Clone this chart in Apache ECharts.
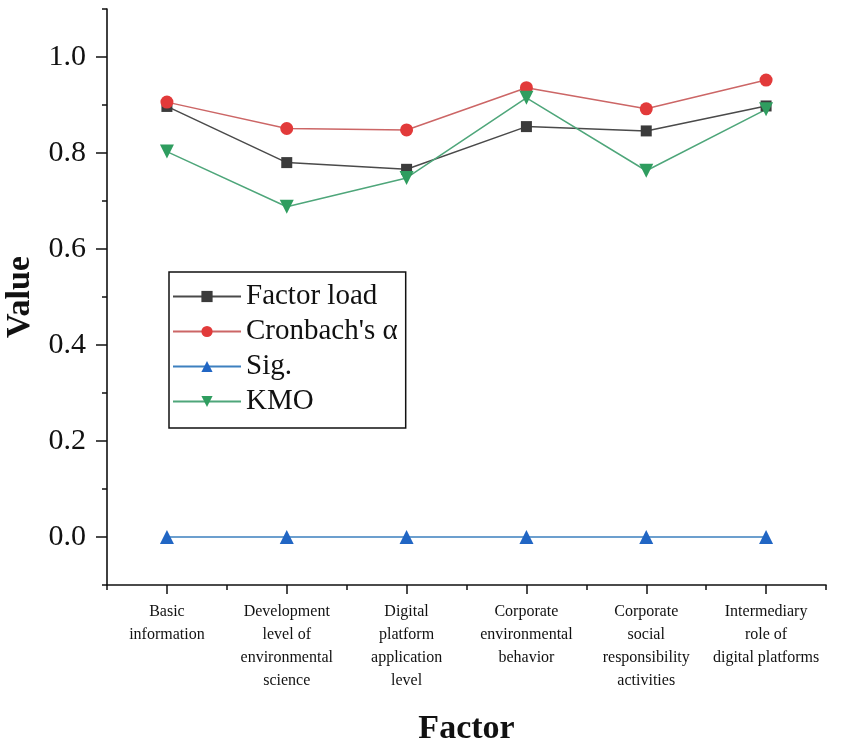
<!DOCTYPE html>
<html>
<head>
<meta charset="utf-8">
<script src="https://cdn.jsdelivr.net/npm/echarts@6/dist/echarts.min.js"></script>
<style>
html,body{margin:0;padding:0;background:#fff;}
#chart{width:843px;height:749px;}
</style>
</head>
<body>
<div id="chart"></div>
<script>
var categories = [
  "Basic\ninformation",
  "Development\nlevel of\nenvironmental\nscience",
  "Digital\nplatform\napplication\nlevel",
  "Corporate\nenvironmental\nbehavior",
  "Corporate\nsocial\nresponsibility\nactivities",
  "Intermediary\nrole of\ndigital platforms"
];
var factorLoad = [0.897, 0.780, 0.766, 0.855, 0.846, 0.898];
var cronbach   = [0.906, 0.851, 0.848, 0.936, 0.892, 0.952];
var sig        = [0.000, 0.000, 0.000, 0.000, 0.000, 0.000];
var kmo        = [0.803, 0.688, 0.748, 0.915, 0.763, 0.891];
var yMajorTicks = [0.0, 0.2, 0.4, 0.6, 0.8, 1.0];
var yMinorTicks = [-0.1, 0.1, 0.3, 0.5, 0.7, 0.9, 1.1];

var serif = "'Liberation Serif', 'DejaVu Serif', serif";
var axisColor = '#111';

var chart = echarts.init(document.getElementById('chart'));
chart.setOption({
  animation: false,
  backgroundColor: '#fff',
  grid: {left: 107, right: 17, top: 9, bottom: 164, containLabel: false, outerBoundsMode: 'none'},
  legend: {
    orient: 'vertical',
    left: 169, top: 272,
    borderColor: '#111', borderWidth: 1.5,
    padding: [10, 8, 12, 3],
    itemWidth: 68, itemHeight: 14, itemGap: 6,
    textStyle: {fontFamily: serif, fontSize: 29, color: '#111', lineHeight: 29},
    data: ['Factor load', "Cronbach's α", 'Sig.', 'KMO']
  },
  xAxis: [{
    type: 'category', data: categories, boundaryGap: true,
    axisLine: {show: true, onZero: false, lineStyle: {color: axisColor, width: 1.6}},
    axisTick: {show: true, interval: 0, alignWithLabel: true, inside: false, length: 9, lineStyle: {color: axisColor, width: 1.5}},
    axisLabel: {interval: 0, margin: 15, fontFamily: serif, fontSize: 16, lineHeight: 23, color: '#111'},
    splitLine: {show: false},
    name: 'Factor', nameLocation: 'middle', nameGap: 127,
    nameTextStyle: {fontFamily: serif, fontSize: 34, fontWeight: 'bold', color: '#111'}
  }, {
    type: 'category', data: categories, boundaryGap: true, position: 'bottom',
    axisLine: {show: false, onZero: false},
    axisTick: {show: true, interval: 0, inside: false, length: 5, lineStyle: {color: axisColor, width: 1.5}},
    axisLabel: {show: false},
    splitLine: {show: false}
  }],
  yAxis: [{
    type: 'value', min: -0.1, max: 1.1,
    axisLine: {show: true, onZero: false, lineStyle: {color: axisColor, width: 1.6}},
    axisTick: {show: true, customValues: yMajorTicks, length: 11, lineStyle: {color: axisColor, width: 1.5}},
    axisLabel: {customValues: yMajorTicks, margin: 21, fontFamily: serif, fontSize: 30, color: '#111',
      formatter: function (v) { return Number(v).toFixed(1); }},
    splitLine: {show: false},
    name: 'Value', nameLocation: 'middle', nameGap: 70, nameRotate: 90,
    nameTextStyle: {fontFamily: serif, fontSize: 34, fontWeight: 'bold', color: '#111'}
  }, {
    type: 'value', min: -0.1, max: 1.1, position: 'left',
    axisLine: {show: false, onZero: false},
    axisTick: {show: true, customValues: yMinorTicks, length: 5, lineStyle: {color: axisColor, width: 1.5}},
    axisLabel: {show: false},
    splitLine: {show: false}
  }],
  series: [{
    name: 'Factor load', type: 'line', data: factorLoad,
    symbol: 'rect', symbolSize: 11,
    itemStyle: {color: '#3b3b3b'},
    lineStyle: {color: '#4a4a4a', width: 1.5}
  }, {
    name: "Cronbach's α", type: 'line', data: cronbach,
    symbol: 'circle', symbolSize: 13,
    itemStyle: {color: '#e23a3a'},
    lineStyle: {color: '#cc6666', width: 1.5}
  }, {
    name: 'Sig.', type: 'line', data: sig,
    symbol: 'triangle', symbolSize: 14,
    itemStyle: {color: '#2166c4'},
    lineStyle: {color: '#3d80bf', width: 1.5}
  }, {
    name: 'KMO', type: 'line', data: kmo,
    symbol: 'triangle', symbolSize: 14, symbolRotate: 180,
    itemStyle: {color: '#2f9d5f'},
    lineStyle: {color: '#4ea67a', width: 1.5}
  }]
});
</script>
</body>
</html>
